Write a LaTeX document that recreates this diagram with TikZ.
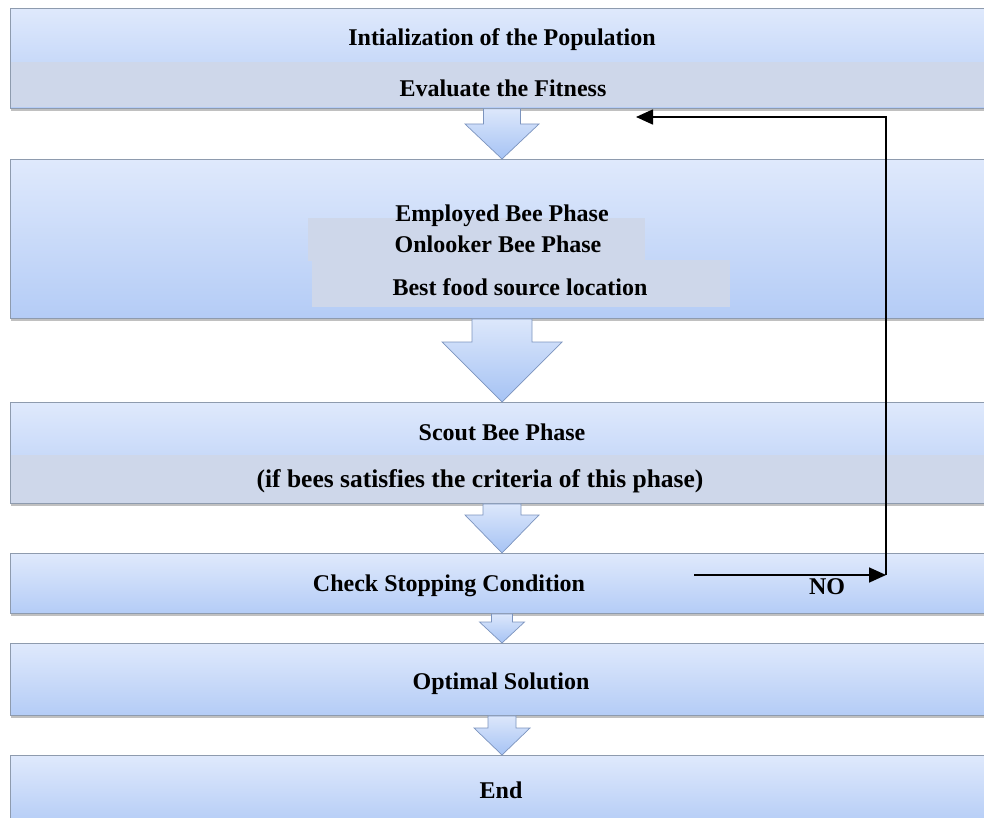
\documentclass[tikz,border=0pt]{standalone}
\usepackage{fontspec}
\setmainfont{Liberation Serif}
\usetikzlibrary{shadows,calc,arrows.meta}

\definecolor{boxtop}{HTML}{DFE9FC}
\definecolor{boxbot}{HTML}{B4CCF6}
\definecolor{bandfill}{HTML}{CED7EA}
\definecolor{boxline}{HTML}{8E9BAE}
\definecolor{arrline}{HTML}{7C94BE}
\definecolor{arrtop}{HTML}{DCE7FB}
\definecolor{arrbot}{HTML}{A6C3F4}

\tikzset{
  stage/.style={draw=boxline, line width=0.9pt, top color=boxtop, bottom color=boxbot,
    rectangle, inner sep=0pt, anchor=north west,
    drop shadow={shadow xshift=0.5pt, shadow yshift=-3pt, opacity=0.45, fill=black!55}},
  bandbox/.style={fill=bandfill, rectangle, inner sep=0pt, anchor=north west},
  outline/.style={draw=boxline, line width=0.9pt},
  lbl/.style={font=\fontsize{24}{28}\selectfont\bfseries, inner sep=0pt, yshift=-2.5pt},
  flow/.style={draw=arrline, line width=0.7pt, top color=arrtop, bottom color=arrbot},
  loopline/.style={line width=1.7pt},
  looparrow/.style={line width=1.7pt, -{Triangle[length=17pt,width=15pt]}}
}

% block arrow between two stages: #1 from, #2 to, #3 shaft half width,
% #4 head half width, #5 head length (all in px)
\newcommand\flowarrow[5]{%
  \path[flow] let \p1=(#1.south), \p2=(#2.north) in
    (502pt-#3pt,\y1) -- (502pt-#3pt,\y2+#5pt) -- (502pt-#4pt,\y2+#5pt)
    -- (502pt,\y2) -- (502pt+#4pt,\y2+#5pt) -- (502pt+#3pt,\y2+#5pt)
    -- (502pt+#3pt,\y1) -- cycle;}

\begin{document}
\begin{tikzpicture}[x=1pt,y=-1pt]
\useasboundingbox (0,0) rectangle (984,818);

% stages
\node[stage, minimum width=984, minimum height=100] (init) at (10,8) {};
\node[bandbox, minimum width=983, minimum height=45] (fitband) at (10.5,62) {};
\draw[outline] (init.north west) rectangle (init.south east);

\node[stage, minimum width=984, minimum height=159] (bees) at (10,159) {};
\node[bandbox, minimum width=337, minimum height=43] (onband) at (308,218) {};
\node[bandbox, minimum width=418, minimum height=47] (bestband) at (312,260) {};

\node[stage, minimum width=984, minimum height=101] (scout) at (10,402) {};
\node[bandbox, minimum width=983, minimum height=48] (critband) at (10.5,455) {};
\draw[outline] (scout.north west) rectangle (scout.south east);

\node[stage, minimum width=984, minimum height=60] (stop) at (10,553) {};
\node[stage, minimum width=984, minimum height=72] (opt) at (10,643) {};
\node[stage, minimum width=984, minimum height=70] (fin) at (10,755) {};

% block arrows
\flowarrow{init}{bees}{18.5}{37}{35}
\flowarrow{bees}{scout}{30}{60}{60}
\flowarrow{scout}{stop}{19}{37}{38}
\flowarrow{stop}{opt}{10.5}{22.5}{21}
\flowarrow{opt}{fin}{14}{28}{27}

% labels
\node[lbl] (t1) at (502,37) {Intialization of the Population};
\node[lbl] (t2) at (503,86) {Evaluate the Fitness};
\node[lbl] (t3) at (502,213) {Employed Bee Phase};
\node[lbl] (t4) at (498,242) {Onlooker Bee Phase};
\node[lbl] (t5) at (520,285) {Best food source location};
\node[lbl] (t6) at (502,430) {Scout Bee Phase};
\node[lbl, font=\fontsize{25.5}{28}\selectfont\bfseries] (t7) at (480,479) {(if bees satisfies the criteria of this phase)};
\node[lbl] (t8) at (449,583) {Check Stopping Condition};
\node[lbl] (t9) at (501,681) {Optimal Solution};
\node[lbl] (t10) at (501,788) {End};
\node[lbl] (no) at (827,584) {NO};

% feedback loop
\coordinate (nostart) at (694,575);
\coordinate (noend) at (886,575);
\coordinate (looptop) at (886,117);
\coordinate (fitin) at (636,117);
\draw[looparrow] (nostart) -- (noend);
\draw[loopline] (noend) -- (looptop);
\draw[looparrow] ([xshift=0.85pt]looptop) -- (fitin);
\end{tikzpicture}
\end{document}
